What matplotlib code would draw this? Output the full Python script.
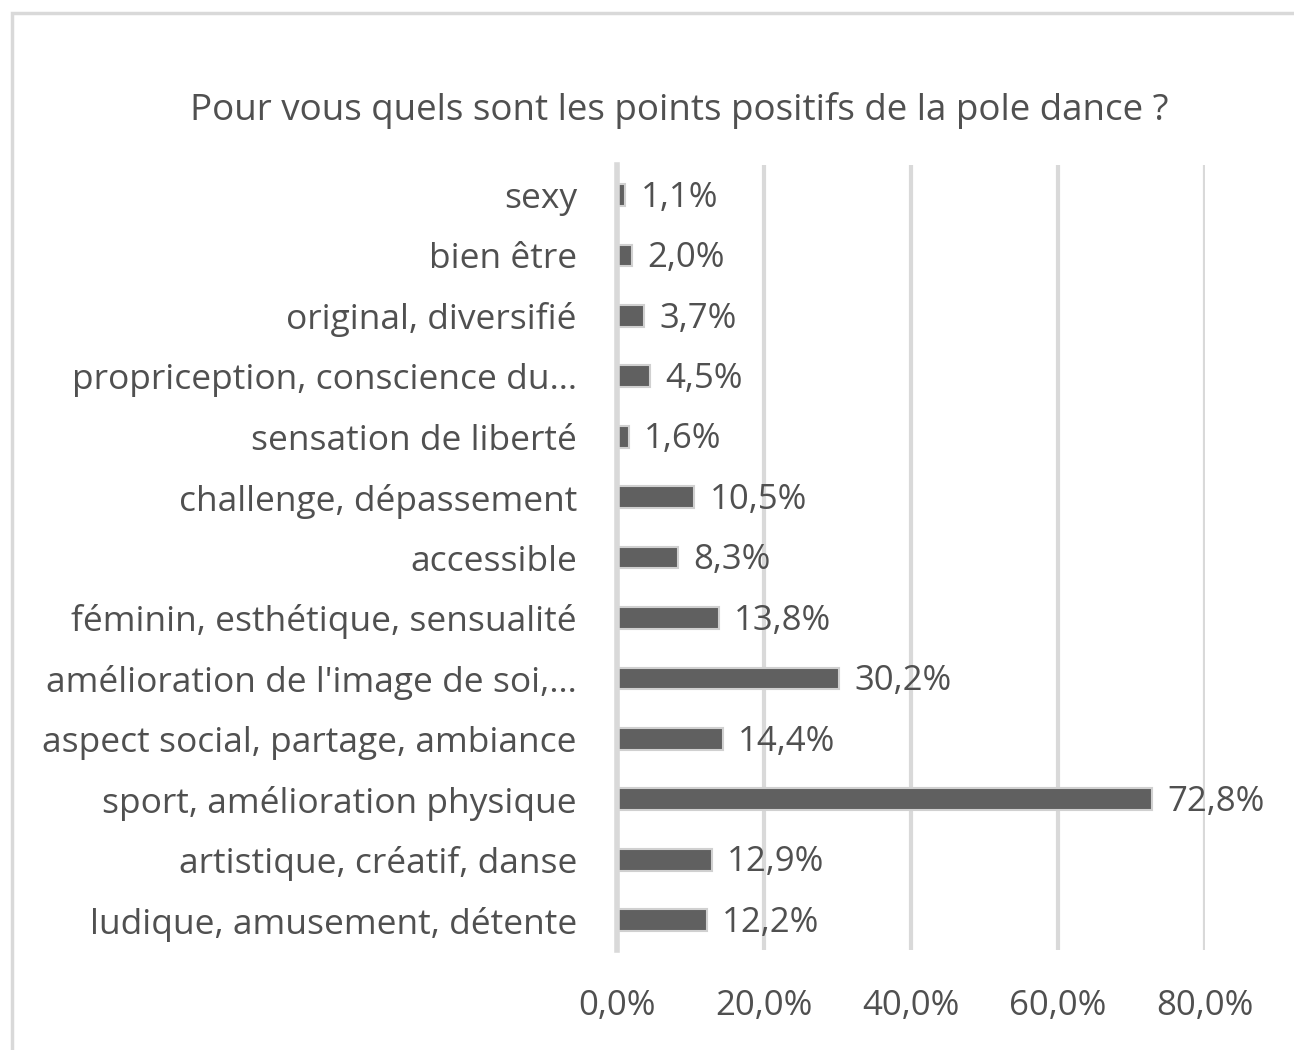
import matplotlib
matplotlib.use("Agg")
import matplotlib.pyplot as plt
from matplotlib.ticker import FuncFormatter
from matplotlib.patches import Rectangle

categories = [
    "sexy",
    "bien être",
    "original, diversifié",
    "propriception, conscience du…",
    "sensation de liberté",
    "challenge, dépassement",
    "accessible",
    "féminin, esthétique, sensualité",
    "amélioration de l'image de soi,…",
    "aspect social, partage, ambiance",
    "sport, amélioration physique",
    "artistique, créatif, danse",
    "ludique, amusement, détente",
]
values = [1.1, 2.0, 3.7, 4.5, 1.6, 10.5, 8.3, 13.8, 30.2, 14.4, 72.8, 12.9, 12.2]
x_ticks = [0, 20, 40, 60, 80]
title = "Pour vous quels sont les points positifs de la pole dance ?"

plt.rcParams['font.family'] = ['Open Sans', 'DejaVu Sans']
text_color = "#505050"

fig = plt.figure(figsize=(12.94, 10.5), dpi=100)
fig.patches.append(Rectangle((0.009, -0.01), 1.1, 0.998, transform=fig.transFigure,
                             fill=False, edgecolor="#d9d9d9", linewidth=2.5))
ax = fig.add_axes([0.477, 0.095, 0.454, 0.748])

y = list(range(len(categories)))
ax.barh(y, values, height=0.36, color="#606060", edgecolor="#d0d0d0", linewidth=1.5, zorder=3)
ax.set_ylim(len(categories) - 0.5, -0.5)
ax.set_xlim(0, 80)
ax.set_yticks(y)
ax.set_yticklabels(categories, fontsize=25.5, color=text_color)
ax.set_xticks(x_ticks)
ax.xaxis.set_major_formatter(FuncFormatter(lambda v, p: f"{v:.1f}%".replace(".", ",")))
ax.tick_params(axis="x", labelsize=25, colors=text_color, length=0, pad=28)
ax.tick_params(axis="y", length=0, pad=29)
ax.grid(axis="x", color="#d9d9d9", linewidth=3, zorder=0)
for s in ["top", "right", "bottom"]:
    ax.spines[s].set_visible(False)
ax.spines["left"].set_color("#d9d9d9")
ax.spines["left"].set_linewidth(4)
ax.spines["left"].set_zorder(4)

for yi, v in zip(y, values):
    ax.annotate(f"{v:.1f}%".replace(".", ","), xy=(v, yi), xytext=(11, -2),
                textcoords="offset points", va="center", ha="left",
                fontsize=25, color=text_color, annotation_clip=False)

fig.text(0.525, 0.895, title, ha="center", va="center", fontsize=26.5, color=text_color)

fig.savefig("out.png", dpi=100)
